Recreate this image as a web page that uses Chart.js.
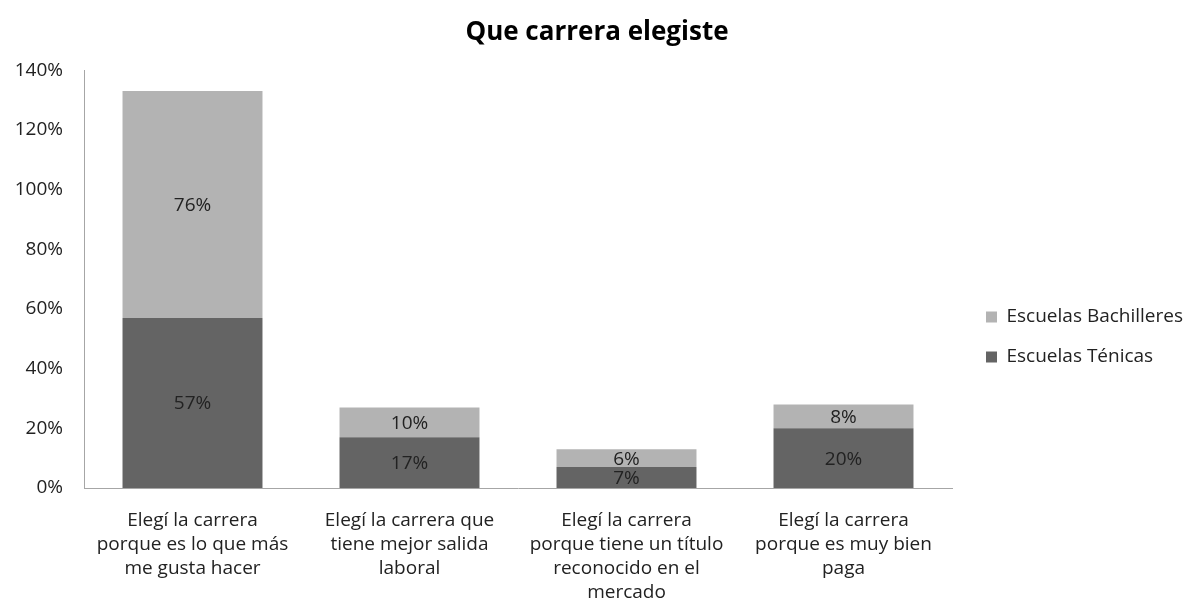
<!DOCTYPE html>
<html>
<head>
<meta charset="utf-8">
<script src="https://cdn.jsdelivr.net/npm/chart.js@4.4.1/dist/chart.umd.min.js"></script>
<style>
  html, body { margin: 0; padding: 0; background: #fff; }
  #wrap { width: 1194px; height: 610px; }
</style>
</head>
<body>
<div id="wrap"><canvas id="careerChart"></canvas></div>
<script>
// categories and series (percent)
const categories = [
  ['Elegí la carrera', 'porque es lo que más', 'me gusta hacer'],
  ['Elegí la carrera que', 'tiene mejor salida', 'laboral'],
  ['Elegí la carrera', 'porque tiene un título', 'reconocido en el', 'mercado'],
  ['Elegí la carrera', 'porque es muy bien', 'paga']
];
const tecnicas = [57, 17, 7, 20];
const bachilleres = [76, 10, 6, 8];
const yTicks = [0, 20, 40, 60, 80, 100, 120, 140];

const FONT = '"Open Sans", Lato, sans-serif';

// value labels centered in each stacked segment
const segmentLabels = {
  id: 'segmentLabels',
  afterDatasetsDraw(chart) {
    const ctx = chart.ctx;
    ctx.save();
    ctx.font = '19px ' + FONT;
    ctx.fillStyle = '#222';
    ctx.textAlign = 'center';
    ctx.textBaseline = 'middle';
    chart.data.datasets.forEach((ds, i) => {
      const meta = chart.getDatasetMeta(i);
      meta.data.forEach((bar, j) => {
        const p = bar.getProps(['x', 'y', 'base'], true);
        ctx.fillText(ds.data[j] + '%', p.x, (p.y + p.base) / 2 + 1);
      });
    });
    ctx.restore();
  }
};

// fixed legend width so the plot ends where it should, then nudge the legend box
const legendPlace = {
  id: 'legendPlace',
  beforeInit(chart) {
    const fit = chart.legend.fit;
    chart.legend.fit = function () {
      fit.bind(this)();
      this.width = 242;
    };
  },
  afterLayout(chart) {
    const lg = chart.legend;
    lg.left += 13;
    lg.right += 13;
    lg.top += 32;
    lg.bottom += 32;
  }
};

new Chart(document.getElementById('careerChart'), {
  type: 'bar',
  data: {
    labels: categories,
    datasets: [
      { label: 'Escuelas Ténicas', data: tecnicas, backgroundColor: '#646464' },
      { label: 'Escuelas Bachilleres', data: bachilleres, backgroundColor: '#b3b3b3' }
    ]
  },
  options: {
    responsive: true,
    maintainAspectRatio: false,
    animation: false,
    datasets: { bar: { categoryPercentage: 1, barPercentage: 0.645 } },
    layout: { padding: 0 },
    plugins: {
      title: {
        display: true,
        text: 'Que carrera elegiste',
        color: '#000',
        font: { family: FONT, size: 26, weight: 'bold' },
        padding: { top: 17, bottom: 22 }
      },
      legend: {
        position: 'right',
        reverse: true,
        labels: {
          color: '#222',
          font: { family: FONT, size: 19 },
          boxWidth: 11,
          boxHeight: 11,
          padding: 21
        }
      },
      tooltip: { enabled: false }
    },
    scales: {
      x: {
        stacked: true,
        grid: { display: false },
        border: { display: true, color: '#a6a6a6' },
        afterFit(scale) { scale.height = 122; },
        ticks: {
          color: '#222',
          font: { family: FONT, size: 19, lineHeight: 1.263 },
          maxRotation: 0,
          padding: 13
        }
      },
      y: {
        stacked: true,
        min: 0,
        max: 140,
        grid: { display: false },
        border: { display: true, color: '#a6a6a6' },
        afterFit(scale) { scale.width = 84; },
        afterBuildTicks(scale) { scale.ticks = yTicks.map(v => ({ value: v })); },
        ticks: {
          color: '#222',
          font: { family: FONT, size: 19 },
          padding: 13,
          callback: v => v + '%'
        }
      }
    }
  },
  plugins: [segmentLabels, legendPlace]
});
</script>
</body>
</html>
